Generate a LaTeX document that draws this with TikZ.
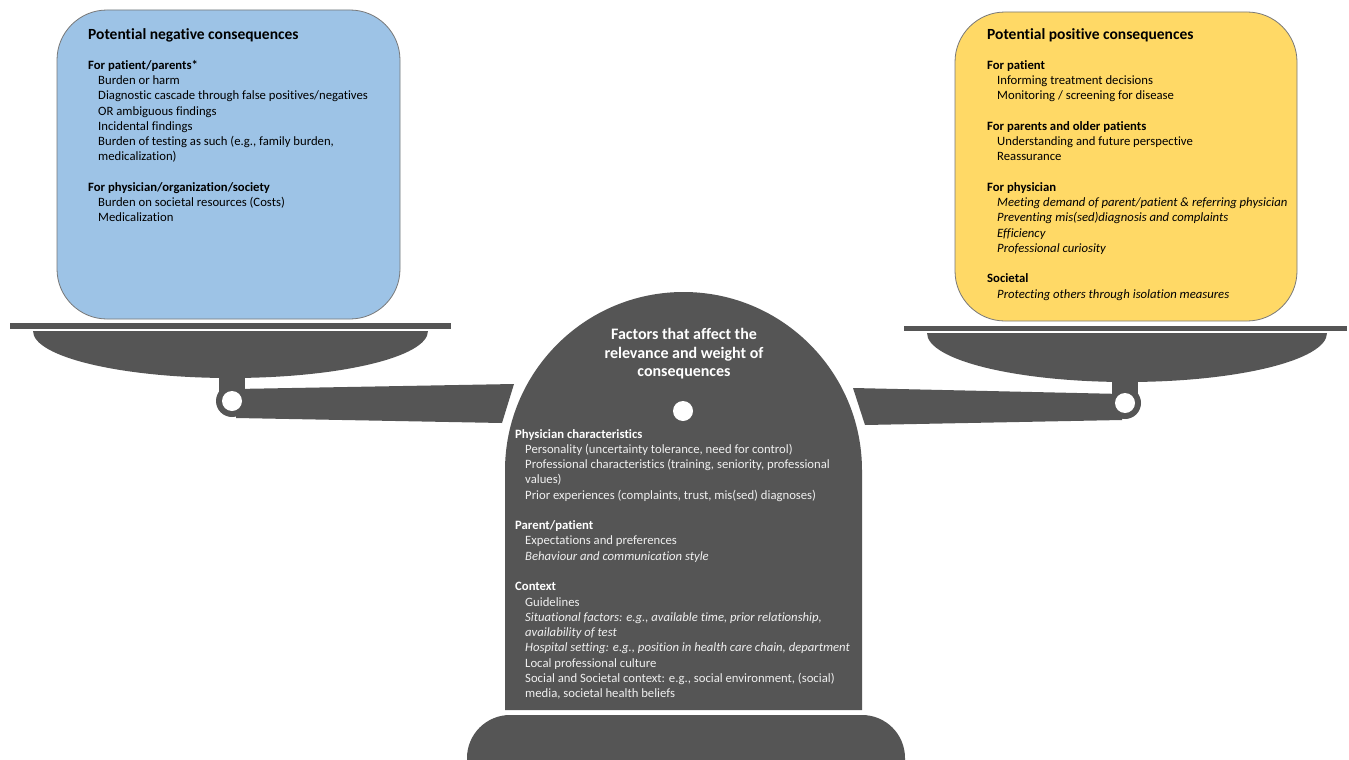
\documentclass[tikz,border=0pt]{standalone}
\usepackage{fontspec}
\setmainfont[Ligatures=NoCommon]{Carlito}
\definecolor{negblue}{RGB}{157,195,230}
\definecolor{posyellow}{RGB}{255,217,102}
\definecolor{scalegray}{RGB}{85,85,85}
\definecolor{boxedge}{RGB}{120,120,120}
\definecolor{lighttxt}{RGB}{240,240,240}
\newcommand\indt{\hspace*{10pt}}
\begin{document}
\begin{tikzpicture}[x=1pt,y=-1pt,
  cbox/.style={draw=boxedge, line width=0.8pt, rounded corners=50pt},
  txt/.style={inner sep=0pt, align=left, font=\fontsize{12.7}{15.27}\selectfont},
  ttl/.style={inner sep=0pt, font=\bfseries\fontsize{15.5}{18.5}\selectfont},
  dark/.style={fill=scalegray},
  hole/.style={fill=white}
]
\useasboundingbox (0,0) rectangle (1349,760);
\fill[white] (0,0) rectangle (1349,760);

% consequence boxes
\draw[cbox, fill=negblue] (57,10) rectangle (400,319);
\draw[cbox, fill=posyellow] (955,12) rectangle (1297,321);

% bars
\fill[dark] (10,323) rectangle (451,329);
\fill[dark] (904,326) rectangle (1347,331);

% pans
\fill[dark] (33,331) -- (428,331) arc[start angle=0, end angle=180, x radius=197.5, y radius=47] -- cycle;
\fill[dark] (927,333) -- (1327,333) arc[start angle=0, end angle=180, x radius=200, y radius=49] -- cycle;

% stems
\fill[dark] (219,370) rectangle (245,398);
\fill[dark] (1112,375) rectangle (1138,400);

% arms
\fill[dark] (236,389) -- (514,384) -- (502,423) -- (236,418) -- cycle;
\fill[dark] (853,388) -- (1122,394) -- (1122,420) -- (865,425) -- cycle;

% rings
\fill[dark] (232,401) circle[radius=16];
\fill[hole] (232,401) circle[radius=10];
\fill[dark] (1125,403) circle[radius=16];
\fill[hole] (1125,403) circle[radius=10];

% central column
\fill[dark] (505,710) -- (505,470.5) arc[start angle=180, end angle=360, radius=178.5] -- (862,710) -- cycle;
\fill[hole] (683,411) circle[radius=10];

% base
\fill[dark] (467,760) -- (467,758) arc[start angle=180, end angle=270, radius=43] -- (862,715) arc[start angle=270, end angle=360, radius=43] -- (905,760) -- cycle;

% texts left
\node[ttl, anchor=west] (negtitle) at (88,35.5) {Potential negative consequences};
\node[txt, anchor=north west] (negtxt) at (88,60) {%
\textbf{For patient/parents*}\\
\indt Burden or harm\\
\indt Diagnostic cascade through false positives/negatives\\
\indt OR ambiguous findings\\
\indt Incidental findings\\
\indt Burden of testing as such (e.g., family burden,\\
\indt medicalization)\\[15.27pt]
\textbf{For physician/organization/society}\\
\indt Burden on societal resources (Costs)\\
\indt Medicalization};

% texts right
\node[ttl, anchor=west] (postitle) at (987,35.5) {Potential positive consequences};
\node[txt, anchor=north west] (postxt) at (987,60) {%
\textbf{For patient}\\
\indt Informing treatment decisions\\
\indt Monitoring / screening for disease\\[15.27pt]
\textbf{For parents and older patients}\\
\indt Understanding and future perspective\\
\indt Reassurance\\[15.27pt]
\textbf{For physician}\\
\indt\textit{Meeting demand of parent/patient \& referring physician}\\
\indt\textit{Preventing mis(sed)diagnosis and complaints}\\
\indt\textit{Efficiency}\\
\indt\textit{Professional curiosity}\\[15.27pt]
\textbf{Societal}\\
\indt\textit{Protecting others through isolation measures}};

% column texts
\node[ttl, align=center, text=white, font=\bfseries\fontsize{16}{18.5}\selectfont] (factitle) at (684,354) {Factors that affect the\\relevance and weight of\\consequences};
\node[txt, anchor=north west, text=lighttxt] (factxt) at (515,429) {%
\textcolor{white}{\textbf{Physician characteristics}}\\
\indt Personality (uncertainty tolerance, need for control)\\
\indt Professional characteristics (training, seniority, professional\\
\indt values)\\
\indt Prior experiences (complaints, trust, mis(sed) diagnoses)\\[15.25pt]
\textcolor{white}{\textbf{Parent/patient}}\\
\indt Expectations and preferences\\
\indt\textit{Behaviour and communication style}\\[15.25pt]
\textcolor{white}{\textbf{Context}}\\
\indt Guidelines\\
\indt\textit{Situational factors: e.g., available time, prior relationship,}\\
\indt\textit{availability of test}\\
\indt\textit{Hospital setting: e.g., position in health care chain, department}\\
\indt Local professional culture\\
\indt Social and Societal context: e.g., social environment, (social)\\
\indt media, societal health beliefs};
\end{tikzpicture}
\end{document}
